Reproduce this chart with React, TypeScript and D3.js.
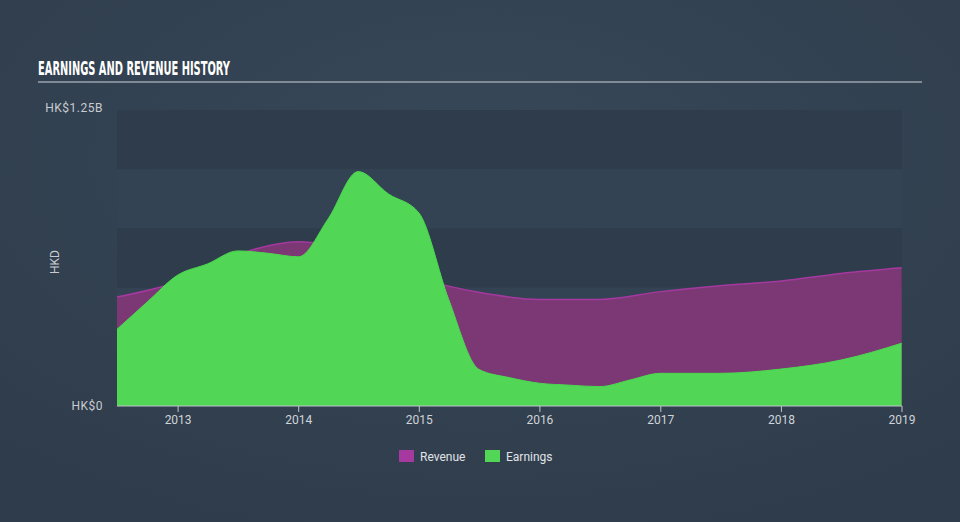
import React from "react";
import * as d3 from "d3";

const revenueDates = ["2012-06-30","2012-12-31","2013-06-30","2013-12-31","2014-06-30","2014-12-31","2015-06-30","2015-12-31","2016-06-30","2016-12-31","2017-06-30","2017-12-31","2018-06-30","2018-12-31"];
const revenueValues = [0.46,0.525,0.64,0.694,0.64,0.54,0.48,0.45,0.45,0.483,0.508,0.528,0.56,0.584];

const earningsDates = ["2012-06-30","2012-09-30","2012-12-31","2013-03-31","2013-06-30","2013-09-30","2013-12-31","2014-03-31","2014-06-30","2014-09-30","2014-12-31","2015-03-31","2015-06-30","2015-09-30","2015-12-31","2016-03-31","2016-06-30","2016-09-30","2016-12-31","2017-06-30","2017-12-31","2018-06-30","2018-12-31"];
const earningsValues = [0.324,0.44,0.553,0.60,0.655,0.645,0.63,0.79,0.99,0.895,0.815,0.45,0.155,0.12,0.096,0.088,0.082,0.11,0.138,0.138,0.156,0.194,0.265];

const yearTicks = [2013,2014,2015,2016,2017,2018,2019];
const yTickLabels = ["HK$0","HK$1.25B"];
const legendItems = ["Revenue","Earnings"];

export default function App() {
  const W = 960, H = 522;
  const left = 117, right = 902, top = 110, bottom = 406;
  const x = d3.scaleTime().domain([new Date("2012-06-30"), new Date("2019-01-01")]).range([left, right]);
  const y = d3.scaleLinear().domain([0, 1.25]).range([bottom, top]);
  const parse = (s: string) => new Date(s);
  const rev = revenueDates.map((d, i) => ({ d: parse(d), v: revenueValues[i] }));
  const earn = earningsDates.map((d, i) => ({ d: parse(d), v: earningsValues[i] }));
  const area = d3.area<{ d: Date; v: number }>().x(p => x(p.d)).y0(bottom).y1(p => y(p.v)).curve(d3.curveMonotoneX);
  const line = d3.line<{ d: Date; v: number }>().x(p => x(p.d)).y(p => y(p.v)).curve(d3.curveMonotoneX);
  const bands = d3.range(0, 5).map(i => ({ y0: y(1.25 - i * 0.25), y1: y(1.0 - i * 0.25), dark: i % 2 === 0 }));
  const font = "Roboto, 'Open Sans', sans-serif";
  const colors = ["#a5399f", "#52d655"];
  return (
    <svg width={W} height={H} style={{ position: "absolute", left: 0, top: 0 }}>
      <defs>
        <radialGradient id="bg" cx="50%" cy="30%" r="75%">
          <stop offset="0%" stopColor="#374859" />
          <stop offset="100%" stopColor="#2f3c4b" />
        </radialGradient>
      </defs>
      <rect width={W} height={H} fill="url(#bg)" />
      <text x={38} y={75} fill="#ffffff" fontFamily="'Liberation Sans Narrow', 'DejaVu Sans Condensed', sans-serif" fontWeight="bold" fontSize={19} textLength={192} lengthAdjust="spacingAndGlyphs">EARNINGS AND REVENUE HISTORY</text>
      <line x1={38} x2={922} y1={82} y2={82} stroke="#9aa3ac" strokeWidth={1.5} />
      {bands.map((b, i) => (
        <rect key={i} x={left} y={b.y0} width={right - left} height={b.y1 - b.y0} fill={b.dark ? "#2e3c4b" : "#334354"} />
      ))}
      <path d={area(rev) || ""} fill="#7b3874" />
      <path d={line(rev) || ""} fill="none" stroke={colors[0]} strokeWidth={1.5} />
      <path d={area(earn) || ""} fill={colors[1]} />
      <path d={line(earn) || ""} fill="none" stroke="#4bd94f" strokeWidth={1} />
      <line x1={left} x2={right} y1={bottom} y2={bottom} stroke="#c0c6cc" strokeWidth={1} />
      {yearTicks.map(t => {
        const xx = x(new Date(`${t}-01-01`));
        return (
          <g key={t}>
            <line x1={xx} x2={xx} y1={bottom} y2={bottom + 6} stroke="#c0c6cc" strokeWidth={1} />
            <text x={xx} y={424} textAnchor="middle" fill="#d0d4d8" fontFamily={font} fontSize={12}>{t}</text>
          </g>
        );
      })}
      <text x={103} y={top + 2} textAnchor="end" fill="#c8ccd0" fontFamily={font} fontSize={12} letterSpacing={0.5}>{yTickLabels[1]}</text>
      <text x={103} y={bottom + 4} textAnchor="end" fill="#c8ccd0" fontFamily={font} fontSize={12} letterSpacing={0.5}>{yTickLabels[0]}</text>
      <text transform={`translate(59,262) rotate(-90)`} textAnchor="middle" fill="#c8ccd0" fontFamily={font} fontSize={12}>HKD</text>
      {legendItems.map((l, i) => {
        const lx = [399, 485][i];
        return (
          <g key={l}>
            <rect x={lx} y={450} width={15} height={12} fill={colors[i]} />
            <text x={lx + 21} y={460.5} fill="#e0e3e6" fontFamily={font} fontSize={12}>{l}</text>
          </g>
        );
      })}
    </svg>
  );
}
